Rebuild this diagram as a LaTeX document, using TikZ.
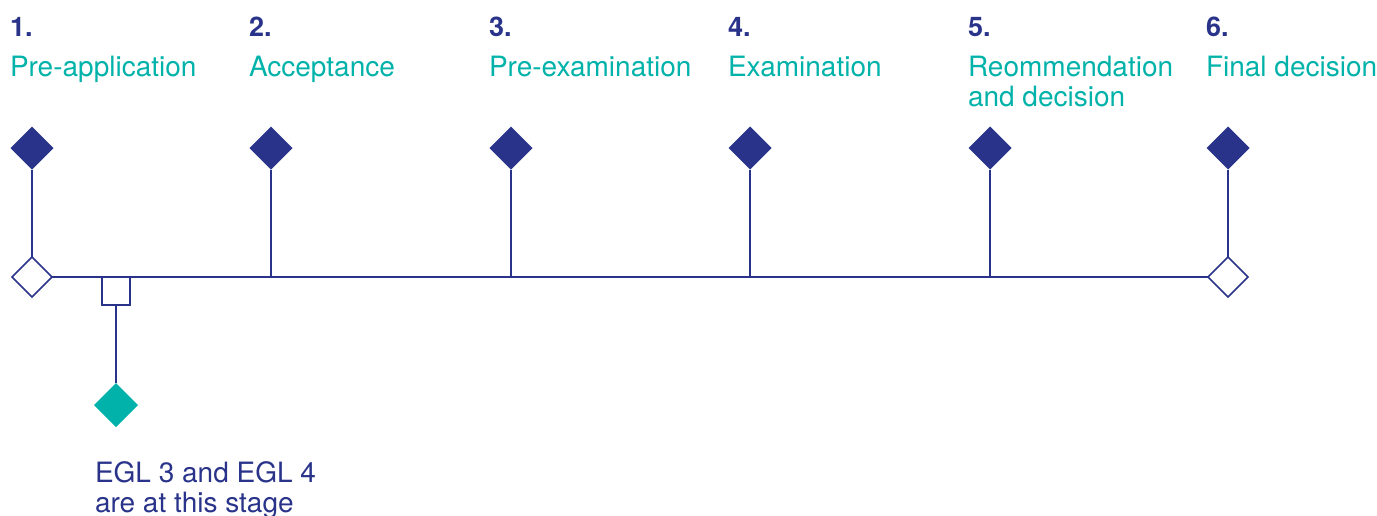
\documentclass[tikz,border=0pt]{standalone}
\usepackage{fontspec}
\setmainfont{TeX Gyre Heros}
\usetikzlibrary{positioning, shapes.geometric}
\definecolor{navy}{RGB}{41,51,138}
\definecolor{lagoon}{RGB}{0,178,169}

\begin{document}
\begin{tikzpicture}[
  x=1pt, y=-1pt,
  every node/.style={
    inner sep=0pt,
    outer sep=0pt,
  },
  stage/.style={diamond, fill=navy, minimum size=43pt},
  gate/.style={diamond, draw=navy, fill=white, line width=1.6pt, minimum size=40pt},
  egl box/.style={rectangle, draw=navy, fill=white, line width=1.6pt, minimum size=28pt},
  egl mark/.style={diamond, fill=lagoon, minimum size=44pt},
  stagenum/.style={text=navy, font=\fontsize{27}{30}\bfseries\selectfont, anchor=base west},
  stagetitle/.style={text=lagoon, font=\fontsize{28}{30}\selectfont, anchor=base west, align=left},
  eglnote/.style={text=navy, font=\fontsize{28}{30}\selectfont, anchor=base west, align=left},
  link/.style={draw=navy, line width=1.6pt},
]
\useasboundingbox (0,0) rectangle (1377,515);

% stage markers
\node[stage] (s1) at (32,148) {};
\node[stage] (s2) at (271,148) {};
\node[stage] (s3) at (511,148) {};
\node[stage] (s4) at (750,148) {};
\node[stage] (s5) at (990,148) {};
\node[stage] (s6) at (1228,148) {};

% stage titles (base of a two-line node is its last line)
\node[stagenum] (n1) at (10,36) {1.};
\node[stagenum] (n2) at (249,36) {2.};
\node[stagenum] (n3) at (489,36) {3.};
\node[stagenum] (n4) at (728,36) {4.};
\node[stagenum] (n5) at (968,36) {5.};
\node[stagenum] (n6) at (1206,36) {6.};
\node[stagetitle] (l1) at (10,76) {Pre-application};
\node[stagetitle] (l2) at (249,76) {Acceptance};
\node[stagetitle] (l3) at (489,76) {Pre-examination};
\node[stagetitle] (l4) at (728,76) {Examination};
\node[stagetitle] (l5) at (968,106) {Reommendation\\and decision};
\node[stagetitle] (l6) at (1206,76) {Final decision};

% timeline
\node[gate] (g1) at (32,277) {};
\node[gate] (g6) at (1228,277) {};
\coordinate (j2) at (s2 |- g1);
\coordinate (j3) at (s3 |- g1);
\coordinate (j4) at (s4 |- g1);
\coordinate (j5) at (s5 |- g1);
\draw[link] (g1.east) -- (g6.west);
\draw[link] (s1.south) -- (g1.north);
\draw[link] (s2.south) -- (j2);
\draw[link] (s3.south) -- (j3);
\draw[link] (s4.south) -- (j4);
\draw[link] (s5.south) -- (j5);
\draw[link] (s6.south) -- (g6.north);

% EGL stage
\node[egl box, anchor=north] (egl) at (116,277) {};
\node[egl mark] (em) at (116,405) {};
\draw[link] (egl.south) -- (em.north);
\node[eglnote] (en) at (95,512) {EGL 3 and EGL 4\\are at this stage};

\end{tikzpicture}
\end{document}
